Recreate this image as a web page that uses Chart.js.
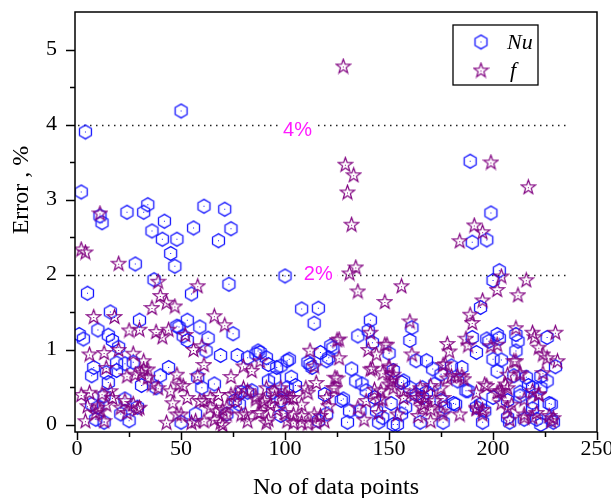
<!DOCTYPE html>
<html>
<head>
<meta charset="utf-8">
<script src="https://cdn.jsdelivr.net/npm/chart.js@4/dist/chart.umd.min.js"></script>
<style>
  html, body { margin: 0; padding: 0; background: #fff; }
</style>
</head>
<body>
<canvas id="myChart" width="611" height="498"></canvas>
<script>
// tick values
const xTicks = [0, 50, 100, 150, 200, 250];
const yTicks = [0, 1, 2, 3, 4, 5];
const refLines = [4, 2];
const refLabels = ["4%", "2%"];

// Nu error points [data point no, error %]
const nuPoints = [
  [1,1.20],[2,3.10],[3,1.14],[4,3.90],[5,1.75],[7,0.65],[7,0.27],[8,0.76],[9,0.07],[10,1.26],
  [10,0.23],[11,2.78],[12,2.69],[13,0.03],[13,0.38],[14,0.69],[15,1.19],[15,0.56],[16,1.50],[17,1.12],
  [19,0.82],[19,0.72],[20,1.03],[21,0.14],[23,0.81],[23,0.34],[24,2.83],[25,0.05],[27,0.83],[28,2.14],
  [29,0.23],[30,1.39],[31,0.52],[32,2.83],[34,2.93],[36,2.58],[37,1.93],[38,0.49],[40,0.65],[41,2.47],
  [42,2.71],[44,0.76],[45,2.28],[47,2.11],[48,2.47],[48,1.31],[49,1.30],[50,4.18],[50,0.03],[51,1.18],
  [53,1.39],[53,1.12],[55,1.74],[56,2.62],[57,0.14],[58,0.63],[59,1.30],[60,0.49],[61,2.91],[62,0.98],
  [63,1.15],[66,0.54],[68,2.45],[69,0.92],[71,2.87],[72,0.14],[73,1.87],[74,2.61],[75,1.21],[76,0.32],
  [77,0.92],[78,0.27],[79,0.43],[82,0.43],[82,0.89],[84,0.45],[86,0.94],[87,0.98],[88,0.96],[91,0.89],
  [92,0.80],[92,0.58],[94,0.43],[95,0.62],[96,0.76],[98,0.78],[98,0.32],[98,0.12],[100,1.98],[101,0.85],
  [101,0.49],[102,0.87],[103,0.63],[105,0.52],[108,1.54],[111,0.83],[112,0.80],[113,0.76],[114,1.35],[116,1.55],
  [116,0.05],[117,0.96],[119,0.40],[120,0.14],[120,0.85],[121,0.89],[122,1.05],[123,1.02],[127,0.32],[128,0.34],
  [130,0.03],[131,0.18],[132,0.74],[134,0.58],[135,1.18],[136,0.18],[137,0.54],[139,0.45],[140,1.25],[141,1.39],
  [142,1.09],[143,0.36],[144,0.18],[145,0.03],[147,0.09],[150,0.95],[151,0.28],[152,0.72],[152,0.00],[154,0.00],
  [156,0.56],[157,0.58],[158,0.23],[156,0.14],[160,0.49],[160,1.12],[161,1.29],[163,0.40],[163,0.85],[165,0.03],
  [166,0.49],[166,0.36],[168,0.85],[168,0.43],[171,0.74],[172,0.54],[175,0.67],[175,0.32],[176,0.03],[177,0.23],
  [180,0.78],[181,0.28],[182,0.27],[183,0.58],[185,0.76],[187,0.45],[188,0.45],[189,3.51],[190,2.43],[190,1.16],
  [192,0.96],[192,0.23],[194,1.56],[194,0.27],[195,0.03],[196,0.18],[197,2.46],[197,1.14],[198,1.11],[199,2.82],
  [200,0.87],[200,1.92],[200,0.36],[202,1.20],[202,0.71],[203,2.05],[203,1.15],[204,0.86],[207,0.32],[207,0.09],
  [208,0.03],[210,0.65],[211,0.98],[211,1.20],[212,1.11],[213,0.38],[213,0.43],[215,0.07],[216,0.63],[217,0.52],
  [219,0.29],[219,0.49],[219,0.21],[221,0.07],[223,0.49],[223,0.64],[223,0.00],[226,1.16],[226,0.58],[227,0.28],
  [228,0.27],[228,0.07],[229,0.03],[230,0.77]
];

// f error points [data point no, error %]
const fPoints = [
  [2,2.34],[4,2.30],[11,2.82],[20,2.15],[39,1.91],[58,1.85],[128,4.78],[129,3.47],[133,3.33],[130,3.10],
  [132,2.67],[134,2.10],[131,2.02],[135,1.78],[156,1.85],[199,3.50],[217,3.17],[191,2.66],[195,2.57],[184,2.45],
  [204,1.98],[202,1.80],[216,1.93],[212,1.73],[195,1.66],
  [40,1.72],[43,1.63],[47,1.58],[36,1.56],[8,1.44],[18,1.44],[25,1.26],[30,1.27],[38,1.24],[41,1.17],
  [44,1.27],[6,0.94],[13,0.96],[20,1.00],[27,0.95],[14,0.76],[24,0.65],[28,0.67],[32,0.74],[34,0.63],
  [48,0.67],[49,0.54],[36,0.54],[39,0.49],[2,0.40],[6,0.43],[16,0.45],[17,0.36],[14,0.27],[11,0.18],
  [21,0.23],[24,0.16],[30,0.23],[46,0.29],[50,0.14],[4,0.05],[13,0.05],[43,0.03],[9,0.16],
  [32,0.85],[34,0.74],[31,0.69],[12,0.41],[23,0.32],[27,0.28],[5,0.25],[10,0.23],[29,0.21],
  [66,1.45],[71,1.33],[52,1.20],[56,1.00],[60,1.05],[61,0.80],[80,0.78],[84,0.72],[88,0.85],[58,0.65],
  [74,0.64],[51,0.52],[68,0.40],[80,0.49],[82,0.45],[91,0.49],[95,0.45],[98,0.49],[101,0.36],[53,0.36],
  [61,0.32],[64,0.23],[74,0.40],[76,0.32],[86,0.34],[89,0.29],[70,0.20],[72,0.14],[55,0.03],[61,0.05],
  [66,0.07],[70,0.00],[79,0.14],[82,0.05],[87,0.16],[92,0.07],[93,0.27],[96,0.20],[100,0.16],
  [45,0.45],[59,0.32],[64,0.36],[76,0.41],[86,0.38],[90,0.32],[95,0.36],[100,0.41],[104,0.36],[111,0.43],
  [48,0.14],[57,0.05],[67,0.18],[72,0.23],[81,0.14],[88,0.16],[101,0.05],[108,0.12],[114,0.14],[119,0.05],
  [69,0.03],[91,0.03],[104,0.03],[111,0.02],
  [126,1.14],[112,0.99],[126,0.89],[114,0.78],[140,1.00],[144,0.94],[148,1.07],[142,0.75],[150,0.78],[147,0.69],
  [124,0.63],[115,0.56],[110,0.49],[124,0.49],[150,0.54],[146,0.45],[102,0.36],[108,0.27],[120,0.36],[121,0.25],
  [139,0.32],[135,0.23],[147,0.34],[104,0.14],[108,0.03],[115,0.03],[117,0.12],[138,0.07],[145,0.16],[148,1.64],
  [141,1.23],[149,1.07],[125,1.13],[141,0.74],[150,0.76],[152,0.62],[125,0.62],[123,0.49],[143,0.47],[145,0.34],
  [157,0.36],[164,0.36],[167,0.28],[170,0.21],[176,0.14],
  [189,1.47],[190,1.36],[160,1.38],[187,1.15],[188,1.06],[178,1.08],[179,0.98],[199,1.05],[202,1.07],[161,0.94],
  [176,0.80],[180,0.65],[185,0.65],[152,0.67],[151,0.58],[152,0.49],[157,0.45],[162,0.40],[167,0.36],[172,0.32],
  [176,0.36],[192,0.43],[196,0.54],[202,0.43],[154,0.14],[164,0.12],[170,0.05],[175,0.18],[184,0.14],[192,0.23],
  [195,0.20],[166,0.23],
  [165,0.49],[170,0.52],[175,0.49],[178,0.62],[183,0.65],[186,0.61],[197,0.52],[204,0.45],[207,0.49],[219,0.45],
  [222,0.41],[192,0.21],[195,0.14],[207,0.22],[215,0.14],[221,0.16],[229,0.09],
  [211,1.29],[219,1.23],[220,1.17],[230,1.23],[222,1.03],[224,0.94],[226,0.89],[231,0.85],[211,0.85],[224,0.69],
  [207,0.67],[213,0.67],[206,0.54],[203,0.45],[222,0.40],[204,0.29],[209,0.27],[215,0.34],[208,0.07],[215,0.10],
  [219,0.10],[227,0.12],[228,0.05],[210,0.85],[213,0.69],[177,0.81]
];

const NU_COLOR = '#1414ff';
const F_COLOR = '#800080';
const SERIF = '"Liberation Serif", "Times New Roman", Times, serif';

// marker images: open hexagon and open five point star, each with a centre dot
function makeHex() {
  const c = document.createElement('canvas');
  c.width = 17; c.height = 17;
  const g = c.getContext('2d');
  g.strokeStyle = NU_COLOR;
  g.lineWidth = 1.3;
  g.beginPath();
  for (let i = 0; i < 6; i++) {
    const a = Math.PI / 2 + i * Math.PI / 3;
    const px = 8.5 + 6.9 * Math.cos(a), py = 8.5 - 6.9 * Math.sin(a);
    if (i == 0) g.moveTo(px, py); else g.lineTo(px, py);
  }
  g.closePath();
  g.stroke();
  g.fillStyle = NU_COLOR;
  g.fillRect(8, 8, 1, 1);
  return c;
}

function makeStar() {
  const c = document.createElement('canvas');
  c.width = 17; c.height = 17;
  const g = c.getContext('2d');
  g.strokeStyle = F_COLOR;
  g.lineWidth = 1.2;
  g.beginPath();
  for (let i = 0; i < 10; i++) {
    const r = (i % 2 == 0) ? 7.4 : 3.0;
    const a = Math.PI / 2 + i * Math.PI / 5;
    const px = 8.5 + r * Math.cos(a), py = 9.2 - r * Math.sin(a);
    if (i == 0) g.moveTo(px, py); else g.lineTo(px, py);
  }
  g.closePath();
  g.stroke();
  g.fillStyle = F_COLOR;
  g.fillRect(8, 9, 1, 1);
  return c;
}

const hexImg = makeHex();
const starImg = makeStar();

// frame, ticks, reference lines, titles and legend box
const decorPlugin = {
  id: 'decor',
  beforeDatasetsDraw(chart) {
    const ctx = chart.ctx;
    const xs = chart.scales.x, ys = chart.scales.y;
    const area = chart.chartArea;
    ctx.save();
    ctx.strokeStyle = '#222';
    ctx.lineWidth = 1.5;
    ctx.setLineDash([1.5, 4.5]);
    const xEnd = xs.getPixelForValue(237);
    for (let i = 0; i < refLines.length; i++) {
      const py = Math.round(ys.getPixelForValue(refLines[i])) + 0.5;
      ctx.beginPath();
      ctx.moveTo(area.left + 3, py);
      ctx.lineTo(xEnd, py);
      ctx.stroke();
    }
    ctx.setLineDash([]);
    ctx.font = '20px "Liberation Sans", Arial, sans-serif';
    ctx.textAlign = 'center';
    ctx.textBaseline = 'middle';
    const labelX = [106, 116];
    const labelDy = [6, 0];
    for (let i = 0; i < refLabels.length; i++) {
      const cx = xs.getPixelForValue(labelX[i]);
      const cy = ys.getPixelForValue(refLines[i]) + labelDy[i];
      const w = ctx.measureText(refLabels[i]).width;
      ctx.fillStyle = '#fff';
      ctx.fillRect(cx - w / 2 - 5, ys.getPixelForValue(refLines[i]) - 3, w + 10, 6);
      ctx.fillStyle = '#ff1aff';
      ctx.fillText(refLabels[i], cx, cy);
    }
    ctx.restore();
  },
  afterDraw(chart) {
    const ctx = chart.ctx;
    const xs = chart.scales.x, ys = chart.scales.y;
    const a = chart.chartArea;
    ctx.save();
    ctx.strokeStyle = '#000';
    ctx.lineWidth = 1.5;
    ctx.strokeRect(a.left, a.top, a.right - a.left, a.bottom - a.top);
    // ticks
    ctx.beginPath();
    for (let v = 0; v <= 5; v += 0.5) {
      const py = Math.round(ys.getPixelForValue(v)) + 0.5;
      ctx.moveTo(a.left, py);
      ctx.lineTo(a.left - (v % 1 == 0 ? 9 : 5), py);
    }
    for (let v = 0; v <= 250; v += 25) {
      const px = Math.round(xs.getPixelForValue(v)) + 0.5;
      ctx.moveTo(px, a.bottom);
      ctx.lineTo(px, a.bottom + (v % 50 == 0 ? 8 : 5));
    }
    ctx.stroke();
    // axis titles
    ctx.fillStyle = '#000';
    ctx.font = '24px ' + SERIF;
    ctx.textAlign = 'center';
    ctx.textBaseline = 'alphabetic';
    ctx.fillText('No of data points', (a.left + a.right) / 2, 494);
    ctx.save();
    ctx.translate(28, 190);
    ctx.rotate(-Math.PI / 2);
    ctx.fillText('Error , %', 0, 0);
    ctx.restore();
    // legend
    const lx = a.right - 144, ly = a.top + 13;
    ctx.lineWidth = 1.3;
    ctx.strokeRect(lx, ly, 85, 60);
    ctx.drawImage(hexImg, lx + 28 - 8.5, ly + 17 - 8.5);
    ctx.drawImage(starImg, lx + 28 - 8.5, ly + 45 - 8.5);
    ctx.font = 'italic 22px ' + SERIF;
    ctx.textAlign = 'left';
    ctx.textBaseline = 'middle';
    ctx.fillText('Nu', lx + 54, ly + 18);
    ctx.fillText('f', lx + 57, ly + 46);
    ctx.restore();
  }
};

const data = {
  datasets: [
    {
      label: 'f',
      data: fPoints.map(p => ({ x: p[0], y: p[1] })),
      pointStyle: starImg,
      pointRadius: 8,
      order: 0
    },
    {
      label: 'Nu',
      data: nuPoints.map(p => ({ x: p[0], y: p[1] })),
      pointStyle: hexImg,
      pointRadius: 8,
      order: 1
    }
  ]
};

const tickFont = { family: SERIF, size: 22 };

function noPad(s) {
  s.paddingTop = 0; s.paddingBottom = 0; s.paddingLeft = 0; s.paddingRight = 0;
}

const config = {
  type: 'scatter',
  data: data,
  options: {
    responsive: false,
    animation: false,
    devicePixelRatio: 1,
    layout: { padding: { top: 12, right: 14, left: 0, bottom: 0 } },
    plugins: {
      legend: { display: false },
      tooltip: { enabled: false }
    },
    scales: {
      x: {
        type: 'linear',
        min: -1,
        max: 250,
        afterBuildTicks: s => { s.ticks = xTicks.map(v => ({ value: v })); },
        afterFit: s => { s.height = 66; noPad(s); },
        grid: { display: false, drawTicks: false },
        border: { display: false },
        ticks: { font: tickFont, color: '#000', padding: 4, maxRotation: 0, autoSkip: false }
      },
      y: {
        type: 'linear',
        min: -0.1,
        max: 5.5,
        afterBuildTicks: s => { s.ticks = yTicks.map(v => ({ value: v })); },
        afterFit: s => { s.width = 75; noPad(s); },
        grid: { display: false, drawTicks: false },
        border: { display: false },
        ticks: { font: tickFont, color: '#000', padding: 18, autoSkip: false }
      }
    }
  },
  plugins: [decorPlugin]
};

// wait for the serif face so the first draw uses it
document.fonts.load('22px "Liberation Serif"').then(function () {
  const myChart = new Chart(document.getElementById('myChart'), config);
});
</script>
</body>
</html>
